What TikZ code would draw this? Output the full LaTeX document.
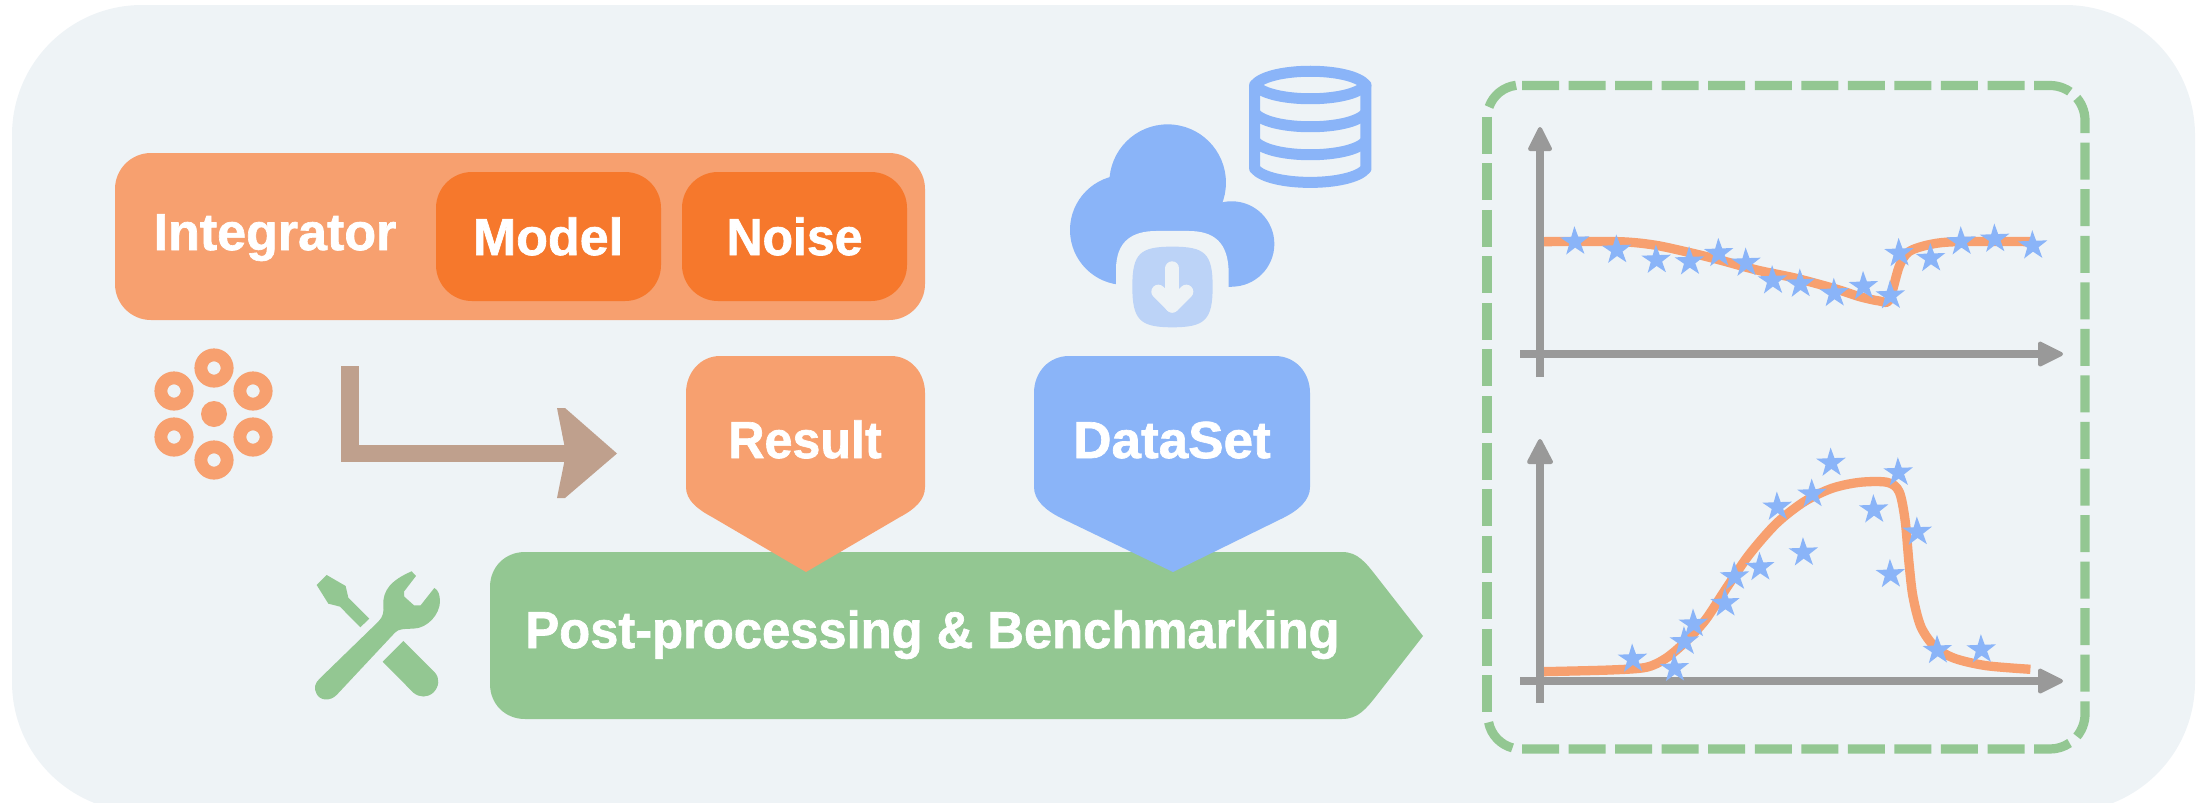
\documentclass[tikz,border=0pt]{standalone}
\usepackage{fontspec}
\setmainfont{Liberation Sans}[BoldFont={Liberation Sans Bold},BoldFeatures={FakeBold=1.3}]
\usetikzlibrary{arrows.meta,shapes.geometric}
\definecolor{bgc}{HTML}{EEF3F6}
\definecolor{orl}{HTML}{F7A06F}
\definecolor{ord}{HTML}{F6782C}
\definecolor{blu}{HTML}{8AB4F8}
\definecolor{bll}{HTML}{BCD3F7}
\definecolor{grn}{HTML}{93C792}
\definecolor{gry}{HTML}{999999}
\definecolor{brn}{HTML}{BFA08D}
\tikzset{
  x=1pt,y=-1pt,
  label text/.style={text=white,font=\bfseries\fontsize{52}{60}\selectfont,anchor=base,inner sep=0pt,outer sep=0pt},
  roundbox/.style={rounded corners=36pt,minimum width=#1,inner sep=0pt,outer sep=0pt},
  stardot/.style={star,star points=5,star point ratio=2.6,minimum size=31pt,inner sep=0pt,fill=blu,rotate=2},
  axis line/.style={gry,line width=8.5pt},
  axis head/.style={gry,fill=gry,line width=4pt,line join=round},
  fit curve/.style={orl,line width=9.3pt,line join=round},
  frame dash/.style={grn,line width=9.2pt,dash pattern=on 37pt off 9.55pt},
  frame arc/.style={grn,line width=9.2pt},
}
\begin{document}
\begin{tikzpicture}
\useasboundingbox (0,0) rectangle (2203,803);
\begin{scope}
\clip (0,0) rectangle (2203,803);
\fill[bgc,rounded corners=130pt] (12,5) rectangle (2195,812);
\end{scope}

% Integrator
\node[roundbox=810pt,minimum height=167pt,fill=orl] (integratorbox) at (520,236.5) {};
\node[roundbox=225pt,minimum height=129pt,fill=ord] (modelbox) at (548.5,236.5) {};
\node[roundbox=225pt,minimum height=129pt,fill=ord] (noisebox) at (794.5,236.5) {};
\node[label text] (integratortext) at (275,250) {\scalebox{1.0}[1]{Integrator}};
\node[label text] (modeltext) at (548,255) {\scalebox{1.0}[1]{Model}};
\node[label text] (noisetext) at (794.5,255) {\scalebox{0.96}[1]{Noise}};

% atoms
\foreach \cx/\cy [count=\i] in {214/368,174/391,253/391,174/437,253/437,214/460}{
  \fill[orl,even odd rule] (\cx,\cy) circle[radius=19.6pt] (\cx,\cy) circle[radius=6.7pt];
}
\fill[orl] (214,414) circle[radius=13pt];

% L arrow
\coordinate (arrowstart) at (350,366);
\coordinate (arrowend) at (570,453.5);
\draw[brn,line width=17.5pt] (arrowstart) |- (arrowend);
\fill[brn] (557,408) -- (565,408) -- (617,453.5) -- (565,498) -- (557,498) -- (566,453.5) -- cycle;

% Post-processing
\fill[grn] (525,552) -- (1342,552)
  .. controls (1358,552) and (1366,563) .. (1377,577)
  -- (1423,636) -- (1377,695)
  .. controls (1366,709) and (1358,719) .. (1342,719)
  -- (525,719) .. controls (505,719) and (490,704) .. (490,684)
  -- (490,587) .. controls (490,567) and (505,552) .. (525,552) -- cycle;
\node[label text] (posttext) at (932.5,648) {\scalebox{0.975}[1]{Post-processing \& Benchmarking}};

% Result
\fill[orl] (720,356) -- (891,356) .. controls (910,356) and (925,372) .. (925,393)
  -- (925,487) .. controls (925,500) and (915,509) .. (900,517)
  -- (806,572) -- (712,517) .. controls (697,509) and (686,500) .. (686,487)
  -- (686,393) .. controls (686,372) and (701,356) .. (720,356) -- cycle;
\node[label text] (resulttext) at (805,458) {\scalebox{0.965}[1]{Result}};

% DataSet
\fill[blu] (1069,356) -- (1275,356) .. controls (1295,356) and (1310,372) .. (1310,393)
  -- (1310,487) .. controls (1310,500) and (1299,510) .. (1283,518)
  -- (1173,572) -- (1061,518) .. controls (1045,510) and (1034,500) .. (1034,487)
  -- (1034,393) .. controls (1034,372) and (1049,356) .. (1069,356) -- cycle;
\node[label text] (datasettext) at (1172,458) {\scalebox{1.02}[1]{DataSet}};

% tools
\begin{scope}[shift={(120,330)},x=0.3333pt,y=-0.3333pt]
\fill[grn] (600,1045) -- (775,875) .. controls (790,860) and (792,845) .. (790,825)
  .. controls (788,780) and (815,750) .. (875,724) -- (888,738) -- (852,785) -- (853,800) -- (882,826) -- (902,826) -- (943,774)
  .. controls (955,780) and (960,795) .. (960,815) .. controls (960,850) and (925,895) .. (880,896)
  .. controls (850,897) and (835,897) .. (825,908) -- (650,1095)
  .. controls (630,1115) and (600,1112) .. (590,1092) .. controls (580,1075) and (585,1058) .. (600,1045) -- cycle;
\fill[grn] (850,933) -- (945,1028) .. controls (960,1045) and (958,1070) .. (940,1088) .. controls (922,1104) and (898,1103) .. (880,1088) -- (788,995) -- cycle;
\fill[grn] (620,735) -- (677,768) -- (685,803) -- (748,866) -- (721,892) -- (660,830) -- (625,821) -- (590,765) -- cycle;
\end{scope}

% cloud and database
\begin{scope}[shift={(1000,40)},x=0.3333pt,y=-0.3333pt]
\fill[blu] (503,428) circle[radius=58.3pt];
\fill[blu] (375,570) circle[radius=55pt];
\fill[blu] (695,612) circle[radius=42.7pt];
\fill[blu] (372,490) rectangle (695,741);
\fill[bgc] (348,770) -- (348,690) .. controls (348,600) and (400,573) .. (470,573) -- (565,573)
  .. controls (640,573) and (686,605) .. (686,700) -- (686,770) -- cycle;
\fill[bll] (397,740) .. controls (397,640) and (420,620) .. (517,620) .. controls (615,620) and (638,640) .. (638,740)
  .. controls (638,840) and (615,862) .. (517,862) .. controls (420,862) and (397,840) .. (397,740) -- cycle;
\draw[bgc,line width=14pt,line cap=round,line join=round] (517,685) -- (517,797);
\draw[bgc,line width=14pt,line cap=round,line join=round] (475,755) -- (517,797) -- (559,755);
\begin{scope}[blu,line width=11pt,line join=round]
\draw (764,135) .. controls (810,80) and (1052,80) .. (1098,135) .. controls (1052,190) and (810,190) .. (764,135) -- cycle;
\draw (764,135) -- (764,386) .. controls (810,441) and (1052,441) .. (1098,386) -- (1098,135);
\draw (764,219) .. controls (810,274) and (1052,274) .. (1098,219);
\draw (764,303) .. controls (810,358) and (1052,358) .. (1098,303);
\end{scope}
\end{scope}

% dashed frame
\draw[frame dash] (1522,85.5) -- (2050,85.5) arc[start angle=90,end angle=0,radius=35pt] -- (2085,714) arc[start angle=0,end angle=-41,radius=35pt];
\draw[frame dash] (1522,749) -- (2050,749) arc[start angle=-90,end angle=-56,radius=35pt];
\draw[frame dash] (1487,116.7) -- (1487,713);
\draw[frame arc] (1489,107) arc[start angle=160.4,end angle=97,radius=33pt];
\draw[frame arc] (1488.6,722.3) arc[start angle=191,end angle=255,radius=33pt];

% top plot
\coordinate (ta) at (1540,377);
\coordinate (tb) at (1540,150);
\coordinate (tc) at (1520,354);
\coordinate (td) at (2040,354);
\draw[axis line] (ta) -- (tb);
\draw[axis line] (tc) -- (td);
\draw[axis head] (1540,129) -- (1550,149) -- (1530,149) -- cycle;
\draw[axis head] (2061,354) -- (2040,343.5) -- (2040,364.5) -- cycle;
\begin{scope}[shift={(1480,100)},x=0.3954pt,y=-0.3333pt]
\draw[fit curve] plot[smooth,tension=0.5] coordinates {(162,425) (350,425) (440,435) (520,455) (600,478) (700,510) (800,535) (900,567) (960,590) (1010,603) (1035,600) (1060,500) (1085,455) (1140,433) (1210,425) (1400,425)};
\foreach \sx/\sy [count=\i] in {240/380,346/405,446/435,530/440,604/415,673/444,740/497,810/507,896/535,970/514,1038/542,1060/415,1140/430,1217/380,1302/372,1398/392}{
  \node[stardot] (ts\i) at (\sx,\sy+45) {};
}
\end{scope}

% bottom plot
\coordinate (ba) at (1540,703);
\coordinate (bb) at (1540,464);
\coordinate (bc) at (1520,681);
\coordinate (bd) at (2040,681);
\draw[axis line] (ba) -- (bb);
\draw[axis line] (bc) -- (bd);
\draw[axis head] (1540,441) -- (1551,462) -- (1529,462) -- cycle;
\draw[axis head] (2061,681) -- (2040,670.5) -- (2040,691.5) -- cycle;
\begin{scope}[shift={(1480,420)},x=0.3954pt,y=-0.3333pt]
\draw[fit curve] plot[smooth,tension=0.5] coordinates {(162,755) (330,750) (420,742) (470,715) (520,665) (570,600) (620,510) (680,405) (750,310) (820,245) (890,205) (960,187) (1030,187) (1060,215) (1075,300) (1085,430) (1095,530) (1115,620) (1150,680) (1200,715) (1280,737) (1392,748)};
\foreach \sx/\sy [count=\i] in {386/672,492/700,517/620,540/567,620/505,644/425,708/397,752/216,840/177,888/84,818/353,996/224,1058/113,1106/291,1038/418,1157/646,1268/644}{
  \node[stardot] (bs\i) at (\sx,\sy+45) {};
}
\end{scope}
\end{tikzpicture}
\end{document}
